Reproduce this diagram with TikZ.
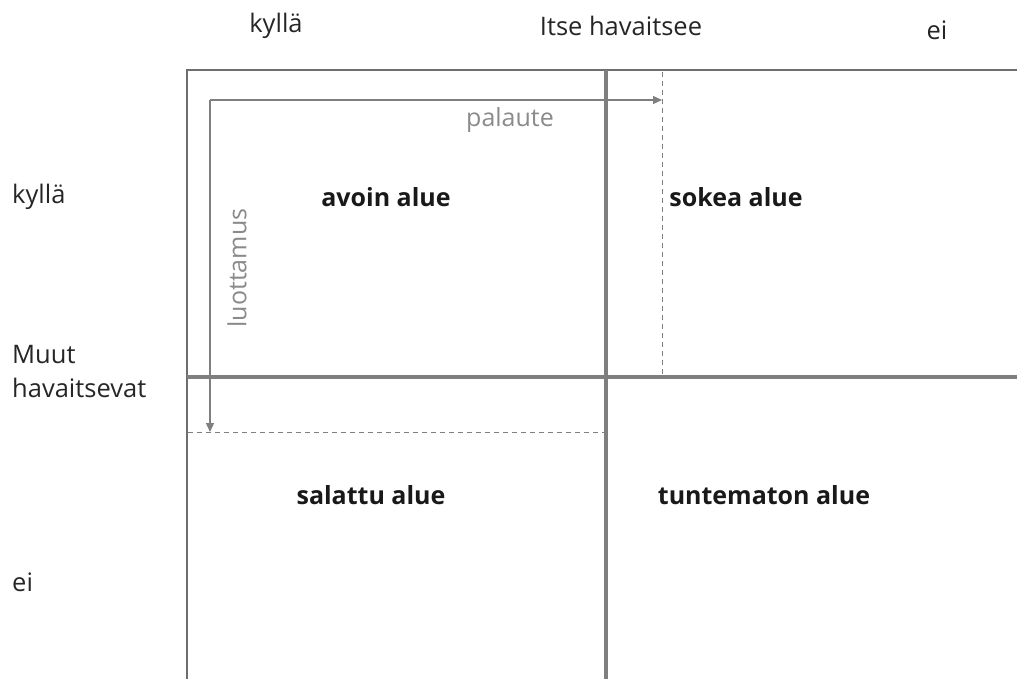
\documentclass[tikz,border=0pt]{standalone}
\usepackage{fontspec}
\setmainfont{Open Sans}
\usetikzlibrary{arrows.meta}
\definecolor{linegray}{HTML}{7F7F7F}
\definecolor{framegray}{HTML}{6E6E6E}
\definecolor{txtgray}{HTML}{8A8A8A}
\tikzset{
  lbl/.style={font=\fontsize{25.5}{30}\selectfont, text=black!85, inner sep=0pt},
  area/.style={font=\fontsize{25}{30}\selectfont\bfseries, text=black!90, inner sep=0pt},
  side/.style={lbl, anchor=west},
  flow/.style={draw=linegray, line width=1.4pt, -{Triangle[length=9pt,width=8pt]}},
  guide/.style={draw=linegray, line width=1pt, dash pattern=on 5pt off 4pt},
  divider/.style={draw=linegray, line width=4pt},
  frame/.style={draw=framegray, line width=2pt},
  hint/.style={font=\fontsize{25}{30}\selectfont, text=txtgray, inner sep=0pt}
}
\begin{document}
\begin{tikzpicture}[x=1pt,y=-1pt]
\useasboundingbox (0,0) rectangle (1017,679);
% frame and dividers
\coordinate (tl) at (187,70);
\coordinate (tr) at (1017,70);
\coordinate (bl) at (187,679);
\draw[frame] (bl) -- (tl) -- (tr);
\coordinate (vtop) at (606,70);
\coordinate (vbot) at (606,679);
\coordinate (hl) at (187,377);
\coordinate (hr) at (1017,377);
\draw[divider] (vtop) -- (vbot);
\draw[divider] (hl) -- (hr);
% dashed guides
\coordinate (dvt) at (662,72);
\coordinate (dvb) at (662,375);
\coordinate (dhl) at (188,432);
\coordinate (dhr) at (604,432);
\draw[guide] (dvt) -- (dvb);
\draw[guide] (dhl) -- (dhr);
% arrows
\coordinate (corner) at (210,100);
\coordinate (fbend) at (662,100);
\coordinate (tend) at (210,432);
\draw[flow] (corner) -- (fbend);
\draw[flow] (corner) -- (tend);
% headings
\node[lbl] (k1) at (276,26) {kyllä};
\node[lbl] (ih) at (621,26) {Itse havaitsee};
\node[lbl] (e1) at (937,30) {ei};
\node[side] (k2) at (12,197) {kyllä};
\node[side] (mu) at (12,355) {Muut};
\node[side] (hv) at (12,388) {havaitsevat};
\node[side] (e2) at (12,582) {ei};
% areas
\node[area] (avoin) at (386,197) {avoin alue};
\node[area] (sokea) at (736,197) {sokea alue};
\node[area] (salattu) at (371,495) {salattu alue};
\node[area] (tunt) at (764,495) {tuntematon alue};
% arrow labels
\node[hint] (pal) at (510,120) {palaute};
\node[hint, rotate=90] (luo) at (237,268) {luottamus};
\end{tikzpicture}
\end{document}
